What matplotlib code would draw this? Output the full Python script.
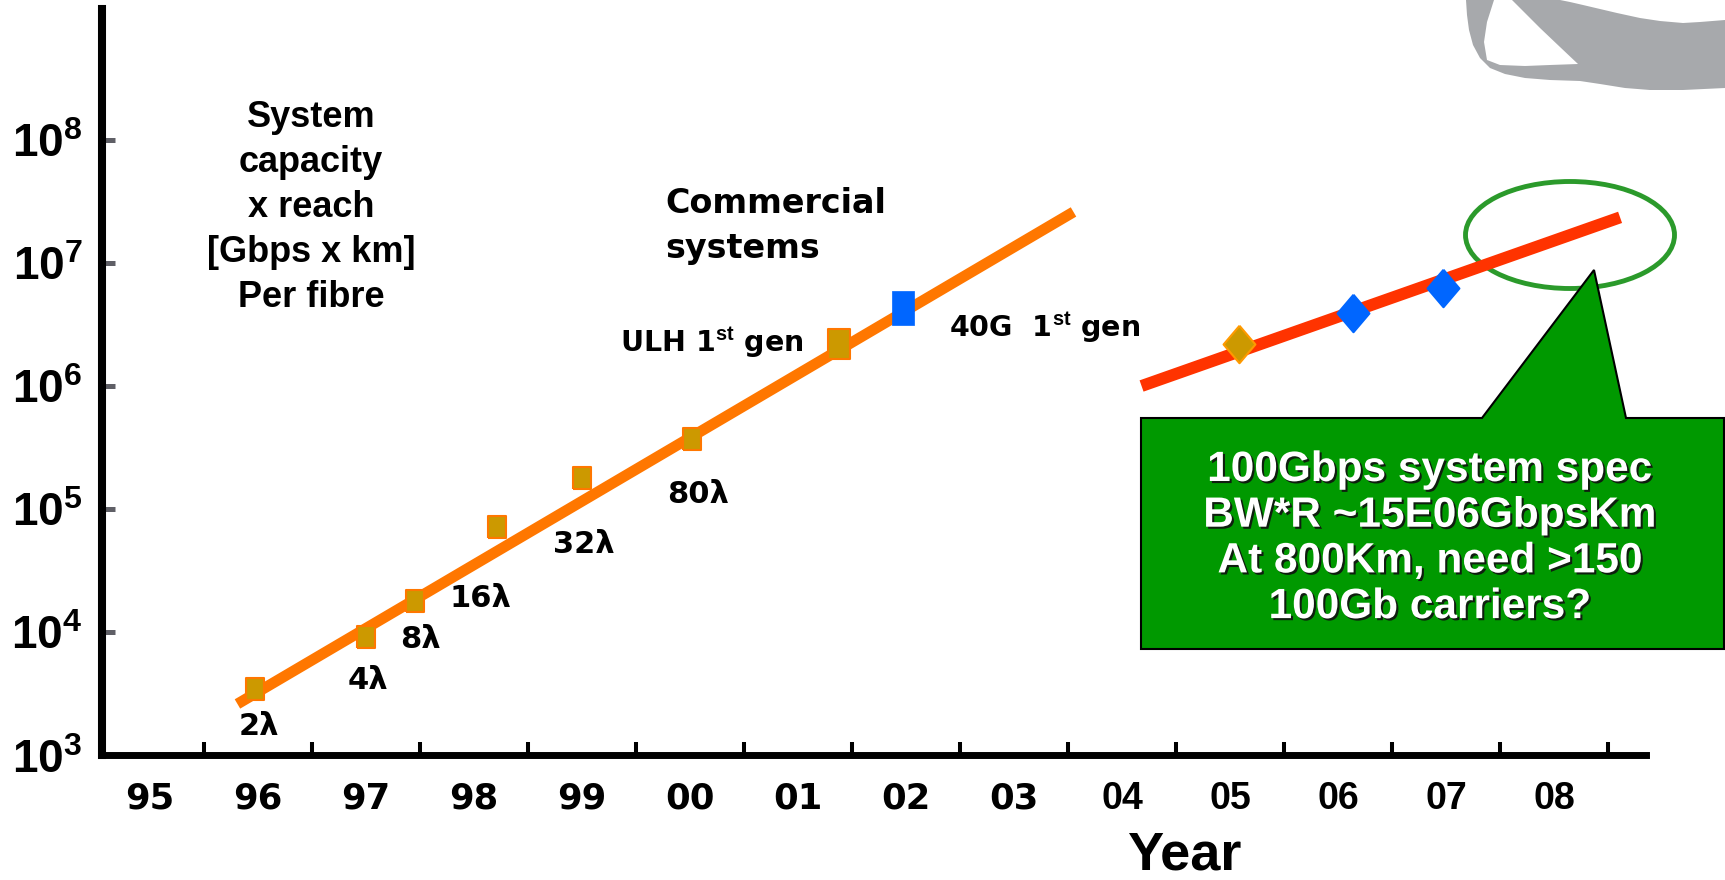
import matplotlib
matplotlib.use('Agg')
import matplotlib.pyplot as plt
import matplotlib.patheffects as pe
from matplotlib.patches import Ellipse, Polygon
from matplotlib.ticker import NullLocator

# --- Data: system capacity x reach [Gbps x km] per fibre ---
wdm_years = [1996.47, 1997.50, 1997.95, 1998.71, 1999.50, 2000.52]
wdm_capacity = [3.45e3, 9.1e3, 1.8e4, 7.1e4, 1.8e5, 3.7e5]
wdm_labels = ['2λ', '4λ', '8λ', '16λ', '32λ', '80λ']
# label offsets (points) from each marker
wdm_label_offsets = [(3, -27), (1, -31), (4, -28), (-12, -51), (1, -48), (4, -40)]

ulh_year, ulh_capacity = 2001.88, 2.2e6
g40_year, g40_capacity = 2002.47, 4.3e6

trend_years = [1996.31, 2004.05]
trend_capacity = [2.6e3, 2.6e7]

next_years = [2004.68, 2009.11]
next_capacity = [1.0e6, 2.35e7]
next_pt_years = [2005.58, 2006.64, 2007.47]
next_pt_capacity = [2.2e6, 3.9e6, 6.3e6]
next_pt_colors = ['#cc9900', '#0066ff', '#0066ff']
next_pt_edges = ['#ff9900', '#0066ff', '#0066ff']

year_labels = ['95', '96', '97', '98', '99', '00', '01', '02', '03',
               '04', '05', '06', '07', '08']
ytick_values = [1e3, 1e4, 1e5, 1e6, 1e7, 1e8]
ytick_labels = [r'$\mathbf{10^{%d}}$' % k for k in range(3, 9)]

callout_lines = ['100Gbps system spec', 'BW*R ~15E06GbpsKm',
                 'At 800Km, need >150', '100Gb carriers?']
ylabel_lines = ['System', 'capacity', 'x reach', '[Gbps x km]', 'Per fibre']

# --- Styling ---
plt.rcParams['mathtext.fontset'] = 'custom'
plt.rcParams['mathtext.rm'] = 'Liberation Sans'
plt.rcParams['mathtext.bf'] = 'Liberation Sans:bold'

ORANGE = '#ff7700'
RED = '#ff3300'
GOLD = '#cc9900'
BLUE = '#0066ff'
GREEN = '#009900'

W, H = 1725, 880
fig = plt.figure(figsize=(W / 100, H / 100), dpi=100, facecolor='white')

# decoration layer in pixel coordinates (callout, ellipse, logo, text blocks)
deco = fig.add_axes([0, 0, 1, 1], zorder=0)
deco.set_xlim(0, W)
deco.set_ylim(H, 0)
deco.axis('off')

ax = fig.add_axes([102 / W, 125 / H, 1544 / W, 746 / H], zorder=1)
ax.patch.set_visible(False)
ax.set_yscale('log')
ax.set_xlim(1995.056, 2009.35)
ax.set_ylim(1e3, 10 ** 9.065)

# rectangle / diamond marker shapes (taller than wide)
def rect(ratio):
    return [(-ratio, -1), (ratio, -1), (ratio, 1), (-ratio, 1), (-ratio, -1)]

diamond = [(0, 1), (0.85, 0), (0, -1), (-0.85, 0), (0, 1)]

# commercial systems trend
ax.plot(trend_years, trend_capacity, color=ORANGE, lw=7.8, solid_capstyle='butt', zorder=2)
ax.plot(wdm_years, wdm_capacity, ls='none', marker=rect(0.86), ms=15.5,
        mfc=GOLD, mec=ORANGE, mew=1.5, zorder=3)
for yr, cap, lab, off in zip(wdm_years, wdm_capacity, wdm_labels, wdm_label_offsets):
    ax.annotate(lab, (yr, cap), xytext=off, textcoords='offset points',
                ha='center', va='center', fontsize=22, fontweight='bold',
                family='DejaVu Sans')

ax.plot([ulh_year], [ulh_capacity], ls='none', marker=rect(0.73), ms=21,
        mfc=GOLD, mec=ORANGE, mew=1.5, zorder=3)
ax.plot([g40_year], [g40_capacity], ls='none', marker=rect(0.66), ms=24,
        mfc=BLUE, mec=BLUE, mew=0.5, zorder=3)
ax.annotate(r'ULH 1$^{\mathbf{st}}$ gen', (ulh_year, ulh_capacity), xytext=(-26, -6),
            textcoords='offset points', ha='right', va='baseline',
            fontsize=20.5, fontweight='bold', family='DejaVu Sans')
ax.annotate(r'40G  1$^{\mathbf{st}}$ gen', (g40_year, g40_capacity), xytext=(33, -21),
            textcoords='offset points', ha='left', va='baseline',
            fontsize=20.5, fontweight='bold', family='DejaVu Sans')

# next generation
ax.plot(next_years, next_capacity, color=RED, lw=8.6, solid_capstyle='butt', zorder=2)
for yr, cap, fc, ec in zip(next_pt_years, next_pt_capacity, next_pt_colors, next_pt_edges):
    ax.plot([yr], [cap], ls='none', marker=diamond, ms=27, mfc=fc, mec=ec,
            mew=1.5, zorder=3)

# axes styling
for side in ['top', 'right']:
    ax.spines[side].set_visible(False)
ax.spines['left'].set_linewidth(5.8)
ax.spines['bottom'].set_linewidth(5.0)
ax.spines['left'].set_capstyle('projecting')
ax.spines['bottom'].set_capstyle('projecting')

ax.yaxis.set_minor_locator(NullLocator())
ax.set_yticks(ytick_values, ytick_labels)
ax.tick_params(axis='y', which='major', direction='in', length=9.5, width=3.6,
               color='#5f5f66', labelsize=33, pad=14)

ax.set_xticks(range(1996, 2010), [''] * 14)
ax.set_xticks([1995.5 + i for i in range(len(year_labels))], year_labels, minor=True)
ax.tick_params(axis='x', which='major', direction='in', length=9.5, width=2.9, color='black')
ax.tick_params(axis='x', which='minor', length=0, pad=19, labelsize=25.5)
for i, lbl in enumerate(ax.get_xticklabels(minor=True)):
    lbl.set_fontweight('bold')
    if i < 9:
        lbl.set_family('DejaVu Sans')
    else:
        lbl.set_family('Liberation Sans')
        lbl.set_fontsize(27)

deco.text(1184, 869, 'Year', ha='center', va='baseline', fontsize=39,
          fontweight='bold', family='Liberation Sans')

# text blocks
for i, line in enumerate(ylabel_lines):
    deco.text(311, 127 + 45 * i, line, ha='center', va='baseline', fontsize=26,
              fontweight='bold', family='Liberation Sans')
for i, line in enumerate(['Commercial', 'systems']):
    deco.text(665, 213 + 45 * i, line, ha='left', va='baseline', fontsize=24,
              fontweight='bold', family='DejaVu Sans')

# highlight ellipse and callout
deco.add_patch(Ellipse((1570, 235), 209, 107, fill=False, ec='#2b9a2b', lw=3.5))
callout = [(1141, 418), (1482, 418), (1594, 270), (1626, 418), (1724, 418),
           (1724, 649), (1141, 649)]
deco.add_patch(Polygon(callout, closed=True, fc=GREEN, ec='black', lw=1.5))
shadow = [pe.withSimplePatchShadow(offset=(1.5, -1.5), shadow_rgbFace='#111111', alpha=0.9)]
for i, line in enumerate(callout_lines):
    deco.text(1430, 481 + 45.7 * i, line, ha='center', va='baseline', fontsize=30.5,
              fontweight='bold', family='Liberation Sans', color='white',
              path_effects=shadow)

# grey swoosh in the corner
swoosh = [(1466, 0), (1467, 15), (1469, 30), (1473, 45), (1480, 58), (1490, 68),
          (1505, 74), (1525, 78), (1550, 80), (1580, 81), (1600, 84), (1625, 88),
          (1650, 90), (1683, 90), (1725, 88), (1725, 20), (1700, 22), (1683, 23),
          (1660, 21), (1640, 18), (1617, 13), (1600, 9), (1583, 5), (1570, 2), (1560, 0)]
hole = [(1494, 0), (1487, 22), (1484, 42), (1487, 60), (1500, 65), (1525, 66),
        (1550, 65), (1578, 64), (1560, 47), (1540, 28), (1522, 10), (1512, 0)]
deco.add_patch(Polygon(swoosh, closed=True, fc='#a7a9ac', ec='none'))
deco.add_patch(Polygon(hole, closed=True, fc='white', ec='none'))

fig.savefig('out.png', dpi=100, facecolor='white')
